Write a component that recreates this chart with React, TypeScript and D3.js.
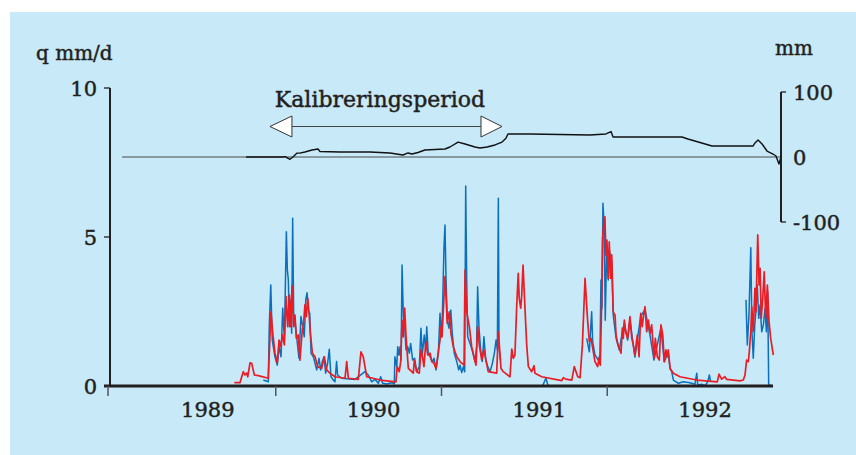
import React from "react";
import * as d3 from "d3";

// x values: years since the first tick of the time axis
const simT = [0.750,0.784,0.804,0.814,0.825,0.831,0.845,0.855,0.871,0.895,0.955,0.961,0.971,0.982,0.995,1.009,1.020,1.030,1.040,1.052,1.062,1.072,1.082,1.090,1.098,1.108,1.116,1.124,1.136,1.146,1.160,1.169,1.176,1.184,1.193,1.201,1.208,1.221,1.237,1.253,1.277,1.293,1.307,1.327,1.357,1.418,1.428,1.438,1.498,1.514,1.528,1.549,1.629,1.725,1.733,1.745,1.754,1.762,1.770,1.778,1.786,1.800,1.830,1.836,1.850,1.866,1.876,1.887,1.894,1.906,1.917,1.931,1.941,1.955,1.967,1.981,1.991,1.997,2.003,2.011,2.021,2.027,2.035,2.047,2.057,2.071,2.092,2.112,2.136,2.142,2.152,2.168,2.182,2.196,2.208,2.218,2.228,2.243,2.256,2.268,2.282,2.333,2.343,2.359,2.373,2.413,2.424,2.433,2.443,2.454,2.463,2.469,2.478,2.484,2.492,2.500,2.514,2.524,2.544,2.558,2.564,2.605,2.725,2.735,2.749,2.786,2.801,2.822,2.836,2.850,2.866,2.882,2.892,2.902,2.916,2.926,2.942,2.950,2.958,2.966,2.972,2.980,2.986,2.992,2.998,3.006,3.012,3.021,3.027,3.036,3.047,3.053,3.063,3.073,3.083,3.091,3.097,3.103,3.111,3.123,3.137,3.148,3.157,3.167,3.181,3.192,3.202,3.211,3.218,3.228,3.238,3.248,3.258,3.268,3.282,3.290,3.302,3.314,3.324,3.335,3.344,3.354,3.362,3.368,3.379,3.399,3.439,3.540,3.664,3.674,3.690,3.710,3.721,3.801,3.821,3.831,3.841,3.851,3.857,3.866,3.872,3.881,3.891,3.897,3.908,3.916,3.922,3.929,3.938,3.947,3.956,3.966,3.976,3.986,4.002];
const simQ = [0.11,0.11,0.48,0.37,0.43,0.31,0.78,0.76,0.37,0.35,0.26,1.10,2.49,1.77,1.11,0.77,1.54,1.32,1.71,1.38,3.00,1.99,3.05,1.99,3.36,1.99,2.38,1.60,1.71,0.87,1.88,2.16,2.72,2.33,2.94,2.44,1.82,1.10,0.98,0.65,0.59,0.98,0.54,0.43,0.31,0.26,0.82,0.26,0.22,1.15,0.98,0.31,0.20,0.14,0.65,0.48,0.82,2.21,1.65,2.61,1.65,0.59,0.43,0.87,0.48,0.43,1.21,0.93,0.65,1.49,1.04,1.10,0.82,0.76,0.59,1.15,1.54,1.99,1.65,2.55,3.67,3.00,2.10,2.49,1.77,1.32,0.98,0.82,0.70,3.89,2.49,1.99,1.32,0.98,0.70,1.99,1.38,0.87,1.21,0.87,0.48,0.43,1.82,0.59,0.48,0.31,1.24,0.93,1.04,2.72,3.78,2.94,2.61,3.05,4.06,3.05,1.38,0.65,0.48,0.68,0.43,0.31,0.18,0.28,0.23,0.20,0.65,0.31,0.28,1.38,3.61,2.16,1.49,1.60,1.15,0.82,0.65,0.93,0.70,2.72,4.96,5.51,5.68,4.40,4.90,3.61,4.84,3.61,4.40,2.49,2.38,1.71,1.43,1.26,1.10,1.94,1.60,2.21,1.82,1.60,2.33,1.60,1.38,1.04,1.71,0.98,2.44,1.99,2.33,2.66,1.82,2.21,1.77,2.05,0.93,1.60,0.98,0.87,2.05,1.71,0.82,1.21,0.98,1.21,0.59,0.43,0.31,0.20,0.14,0.40,0.23,0.31,0.22,0.17,0.20,0.37,0.87,0.82,1.15,1.82,2.66,1.82,3.28,2.49,5.07,3.39,3.95,2.27,2.94,3.83,2.27,3.39,2.16,1.60,1.04];

// observed runoff; NaN marks missing observations
const obsT = [0.925,0.955,0.961,0.970,0.979,0.995,1.009,1.021,1.032,1.042,1.052,1.064,1.070,1.076,1.082,1.090,1.096,1.102,1.108,1.116,1.126,1.140,1.152,1.163,1.172,1.181,1.189,1.196,1.205,1.213,1.227,1.247,1.261,1.271,1.281,1.291,1.301,1.313,1.323,1.333,1.347,1.357,1.367,1.373,1.398,1.478,1.538,1.558,1.579,1.599,1.619,1.633,1.645,1.669,1.700,1.715,1.719,1.730,1.736,1.744,1.750,1.756,1.762,1.770,1.778,1.786,1.796,1.806,1.814,1.826,1.838,1.850,1.866,1.876,1.884,1.896,1.905,1.911,1.920,1.935,1.947,1.955,1.967,1.981,1.991,2.001,2.007,2.015,2.021,2.027,2.035,2.045,2.056,2.065,2.077,2.092,2.104,2.112,2.122,2.132,2.140,2.146,2.152,2.158,2.172,2.188,2.202,2.212,2.218,2.226,2.236,2.246,2.256,2.267,2.279,2.293,2.307,2.319,2.329,2.337,2.343,2.347,2.356,2.365,2.612,2.630,2.642,2.854,2.876,2.892,2.906,2.912,2.926,2.946,2.956,2.962,2.968,2.974,2.982,2.988,2.997,3.006,3.012,3.027,3.036,3.053,3.073,3.091,3.103,3.123,3.137,3.167,3.202,3.228,3.258,3.282,3.324,3.344,3.368,3.379,3.389,3.399,3.429,3.459,3.499,3.529,3.540,3.546,3.570,3.590,3.606,3.616,3.624,3.632,3.825,3.837,3.845,3.855,3.866,3.873,3.881,3.890,3.897,3.905,3.914,3.922,3.932,3.942,3.952,3.960,3.968,3.974,4.000];
const obsQ = [0.20,0.14,2.05,3.39,1.54,0.98,0.70,1.32,0.98,2.61,1.54,5.18,3.89,3.56,1.99,2.89,1.77,5.63,2.44,2.21,1.65,0.93,2.33,1.99,1.65,2.89,3.13,2.55,2.44,1.10,0.98,0.54,0.93,0.54,0.82,0.98,0.43,0.76,1.23,0.31,0.20,0.14,0.82,0.37,0.26,0.22,0.48,0.37,0.14,0.22,0.09,0.31,0.09,0.07,0.11,0.07,0.98,0.65,1.32,1.04,1.32,0.87,4.06,2.33,1.99,1.21,1.32,1.10,1.43,0.87,0.93,0.48,0.65,1.94,1.04,1.71,1.21,1.99,1.10,0.93,0.82,0.93,0.54,1.10,2.44,1.65,2.78,4.67,5.40,3.67,2.21,1.94,2.55,1.77,1.10,0.82,0.54,0.70,0.45,0.65,0.48,6.71,3.56,1.65,1.43,1.15,0.82,1.32,3.33,1.99,1.21,0.82,1.65,0.87,0.65,0.48,0.76,1.10,1.54,1.21,6.30,1.28,0.87,NaN,0.03,0.27,0.02,NaN,1.60,1.15,2.49,1.49,1.04,0.87,1.04,3.56,2.61,6.13,5.29,2.21,4.73,3.56,4.56,4.16,2.38,1.61,1.21,1.81,2.11,1.54,2.21,0.97,2.35,2.55,1.71,0.87,1.95,0.81,1.14,0.59,0.48,0.20,0.09,0.14,0.11,0.06,0.43,0.03,0.06,0.01,0.14,0.37,0.14,NaN,NaN,2.89,1.38,2.38,4.64,1.82,0.93,2.05,2.49,3.39,2.27,2.72,1.82,2.05,2.61,1.82,3.16,0.03,0.00];

// accumulated difference (mm), right axis
const accT = [0.821,1.038,1.056,1.086,1.104,1.128,1.146,1.176,1.219,1.255,1.267,1.388,1.569,1.689,1.768,1.798,1.822,1.858,1.900,2.021,2.051,2.100,2.142,2.202,2.232,2.275,2.323,2.365,2.389,2.401,2.534,2.715,2.896,2.992,3.023,3.035,3.451,3.487,3.632,3.879,3.891,3.910,3.934,3.964,4.000,4.018,4.036,4.048];
const accMM = [0,0,0.5,-3.5,0,6,6,7.7,10.8,12.3,8.5,7.7,7.7,6.2,3.1,6.2,4.6,6.9,10.8,12.3,15.4,23,20,15.4,13.8,15.4,18.5,23,29,35.4,35.4,34.6,33.8,35.4,39.2,30.8,30.8,27.7,16.9,16.9,21.5,26.2,20,9.2,4.6,1.5,-10.8,0];

const yearTicks = [0, 1, 2, 3];
const yearLabels = ["1989", "1990", "1991", "1992"];
const leftTicks = [0, 5, 10];
const rightTicks = [-100, 0, 100];
const calibration = [0.965, 2.365]; // start / end of calibration arrow (years)

const FONT = "'DejaVu Serif', serif";
const INK = "#231f20";

export default function App() {
  const x = d3.scaleLinear().domain([0, 4]).range([110, 773]);
  const y = d3.scaleLinear().domain([0, 10]).range([386, 88]);
  const yR = d3.scaleLinear().domain([-100, 100]).range([222, 92]);

  const line = d3.line<[number, number]>()
    .defined(d => !Number.isNaN(d[1]))
    .x(d => x(d[0])).y(d => y(d[1]));
  const accLine = d3.line<[number, number]>().x(d => x(d[0])).y(d => yR(d[1]));

  const sim = simT.map((t, i) => [t, simQ[i]] as [number, number]);
  const obs = obsT.map((t, i) => [t, obsQ[i]] as [number, number]);
  const acc = accT.map((t, i) => [t, accMM[i]] as [number, number]);

  const x0 = x(0);
  const xr = yR.range();
  const axR = x(4) + 8;
  const arrowY = 126.5;
  const ax1 = x(calibration[0]);
  const ax2 = x(calibration[1]);

  const txt = { fill: INK, stroke: INK, strokeWidth: 0.45 };

  return (
    <svg width={856} height={455} style={{ position: "absolute", left: 0, top: 0 }} fontFamily={FONT}>
      <rect x={0} y={0} width={856} height={455} fill="#ffffff" />
      <rect x={10} y={12} width={846} height={443} fill="#c7e9f8" />

      {/* zero line of right axis */}
      <line x1={x0 + 12} x2={axR} y1={yR(0)} y2={yR(0)} stroke="#4a4a4a" strokeWidth={1} />

      {/* series */}
      <path d={line(obs) || ""} fill="none" stroke="#0a70bb" strokeWidth={1.5} strokeLinejoin="round" />
      <path d={line(sim) || ""} fill="none" stroke="#ec1c24" strokeWidth={1.7} strokeLinejoin="round" />
      <path d={accLine(acc) || ""} fill="none" stroke="#111" strokeWidth={1.4} strokeLinejoin="round" />

      {/* left axis */}
      <line x1={x0} x2={x0} y1={y(10)} y2={y(0)} stroke={INK} strokeWidth={2} />
      {leftTicks.map(v => (
        <g key={v}>
          <line x1={x0 - 6} x2={x0} y1={y(v)} y2={y(v)} stroke={INK} strokeWidth={1.3} />
          <text x={97} y={y(v) + 8} textAnchor="end" fontSize={21} {...txt}>{v}</text>
        </g>
      ))}
      <text x={36} y={60} fontSize={20} {...txt}>q mm/d</text>

      {/* x axis */}
      <line x1={x0 - 6} x2={x(4)} y1={y(0)} y2={y(0)} stroke={INK} strokeWidth={3} />
      {yearTicks.map((t, i) => (
        <g key={t}>
          <line x1={x(t) - (i === 0 ? 2 : 0)} x2={x(t) - (i === 0 ? 2 : 0)} y1={y(0)} y2={y(0) + 10} stroke="#555" strokeWidth={1.5} />
          <text x={x(t + 0.59)} y={417} textAnchor="middle" fontSize={21} {...txt}>{yearLabels[i]}</text>
        </g>
      ))}

      {/* right axis */}
      <line x1={axR} x2={axR} y1={xr[1]} y2={xr[0]} stroke={INK} strokeWidth={2} />
      {[rightTicks[0], rightTicks[2]].map(v => (
        <line key={v} x1={axR} x2={axR + 5} y1={yR(v)} y2={yR(v)} stroke={INK} strokeWidth={1.3} />
      ))}
      {rightTicks.map(v => (
        <text key={v} x={793} y={yR(v) + 8} fontSize={21} {...txt}>{v}</text>
      ))}
      <text x={775} y={55} fontSize={20} {...txt}>mm</text>

      {/* calibration period arrow */}
      <text x={(ax1 + ax2) / 2 - 6} y={107} textAnchor="middle" fontSize={22} {...txt}>Kalibreringsperiod</text>
      <line x1={ax1 + 22} x2={ax2 - 21} y1={arrowY} y2={arrowY} stroke="#444" strokeWidth={1} />
      <path d={`M${ax1},${arrowY} L${ax1 + 22},${arrowY - 10.5} L${ax1 + 22},${arrowY + 10.5} Z`} fill="#fff" stroke="#333" strokeWidth={1} />
      <path d={`M${ax2},${arrowY} L${ax2 - 21},${arrowY - 10.5} L${ax2 - 21},${arrowY + 10.5} Z`} fill="#fff" stroke="#333" strokeWidth={1} />
    </svg>
  );
}
